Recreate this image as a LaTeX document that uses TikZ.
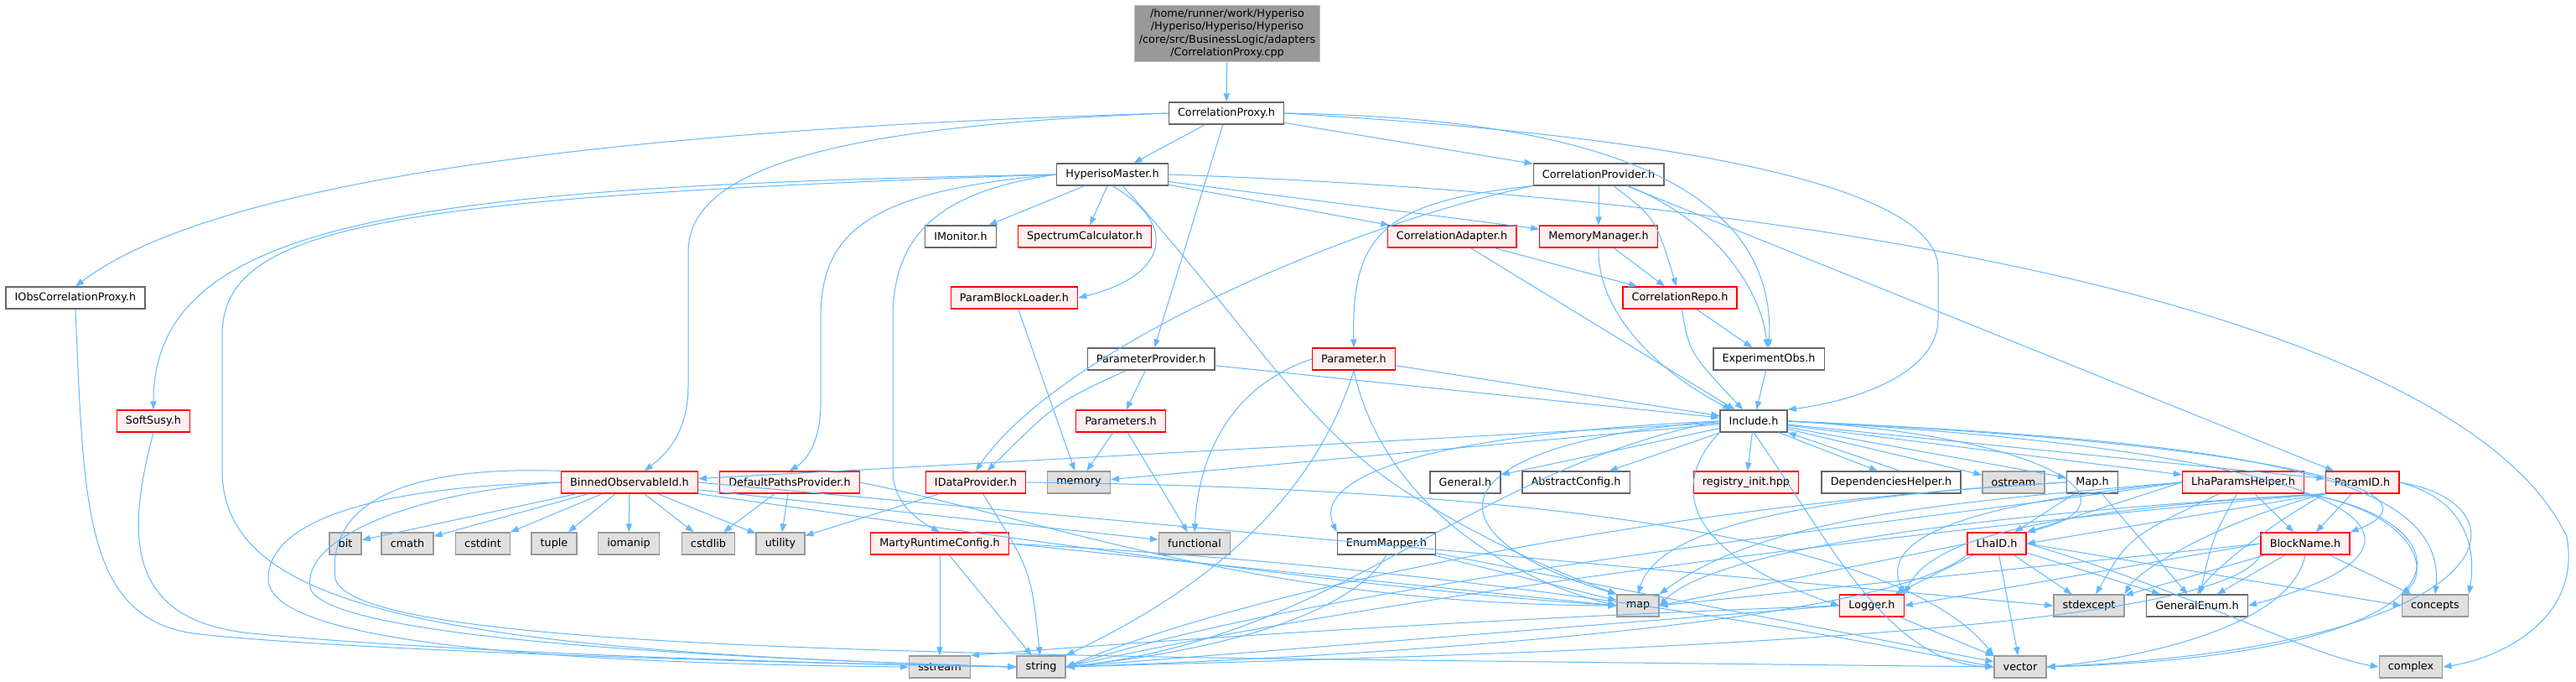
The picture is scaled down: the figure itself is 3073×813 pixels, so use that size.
\documentclass[tikz,border=0pt]{standalone}
\usepackage{fontspec}
\setmainfont{DejaVu Sans}
\usetikzlibrary{arrows.meta}
\definecolor{eblue}{HTML}{63B8FF}
\definecolor{nborder}{HTML}{666666}
\definecolor{sysfill}{HTML}{E0E0E0}
\definecolor{sysborder}{HTML}{999999}
\definecolor{redfill}{HTML}{FFF0F0}
\definecolor{rootfill}{HTML}{999999}
\definecolor{rootborder}{HTML}{BFBFBF}
\begin{document}
\begin{tikzpicture}[x=0.75pt,y=-0.75pt,
  box/.style={font=\fontsize{9.6}{11.5}\selectfont, inner xsep=8pt, inner ysep=0pt, minimum height=19.5pt, line width=1pt},
  nrm/.style={box, draw=nborder, fill=white},
  rnode/.style={box, draw=red, fill=redfill},
  sys/.style={box, draw=sysborder, fill=sysfill},
  rootnode/.style={box, draw=rootborder, fill=rootfill, align=center, inner xsep=4pt, inner ysep=3pt},
  ed/.style={draw=eblue, line width=0.75pt, -{Triangle[length=7.5pt,width=5.5pt]}}]
\useasboundingbox (0,0) rectangle (3073,813);
\fill[white] (0,0) rectangle (3073,813);
% ---------- nodes ----------
\node[rootnode] (cpp) at (1464,40) {/home/runner/work/Hyperiso\\/Hyperiso/Hyperiso/Hyperiso\\/core/src/BusinessLogic/adapters\\/CorrelationProxy.cpp};
\node[nrm] (CPx) at (1463,135) {CorrelationProxy.h};
\node[nrm] (HM) at (1327,208) {HyperisoMaster.h};
\node[nrm] (CPv) at (1907,208) {CorrelationProvider.h};
\node[nrm] (IObs) at (90,355) {IObsCorrelationProxy.h};
\node[nrm] (IMon) at (1146,282) {IMonitor.h};
\node[rnode] (Spec) at (1294,282) {SpectrumCalculator.h};
\node[rnode] (CAd) at (1732,282) {CorrelationAdapter.h};
\node[rnode] (MM) at (1907,282) {MemoryManager.h};
\node[rnode] (PBL) at (1210,355) {ParamBlockLoader.h};
\node[rnode] (CRepo) at (2004,355) {CorrelationRepo.h};
\node[rnode] (SoftSusy) at (183,502) {SoftSusy.h};
\node[nrm] (PProv) at (1373,428) {ParameterProvider.h};
\node[rnode] (Param) at (1615,428) {Parameter.h};
\node[nrm] (ExpObs) at (2110,428) {ExperimentObs.h};
\node[rnode] (Params) at (1337,502) {Parameters.h};
\node[nrm] (Inc) at (2092,502) {Include.h};
\node[rnode] (Binned) at (751,575) {BinnedObservableId.h};
\node[rnode] (DPP) at (942,575) {DefaultPathsProvider.h};
\node[rnode] (IDP) at (1164,575) {IDataProvider.h};
\node[sys] (memory) at (1287,575) {memory};
\node[nrm] (General) at (1748,575) {General.h};
\node[nrm] (AbsCfg) at (1880,575) {AbstractConfig.h};
\node[rnode] (registry) at (2083,575) {registry\_init.hpp};
\node[nrm] (DepH) at (2256,575) {DependenciesHelper.h};
\node[sys] (ostream) at (2402,575) {ostream};
\node[nrm] (MapH) at (2496,575) {Map.h};
\node[rnode] (LPH) at (2676,575) {LhaParamsHelper.h};
\node[rnode] (PID) at (2818,575) {ParamID.h};
\node[sys] (bit) at (412,648) {bit};
\node[sys] (cmath) at (486,648) {cmath};
\node[sys] (cstdint) at (576,648) {cstdint};
\node[sys] (tuple) at (661,648) {tuple};
\node[sys] (iomanip) at (750,648) {iomanip};
\node[sys] (cstdlib) at (845,648) {cstdlib};
\node[sys] (utility) at (931,648) {utility};
\node[rnode] (Marty) at (1121,648) {MartyRuntimeConfig.h};
\node[sys] (functional) at (1425,648) {functional};
\node[nrm] (EnumMapper) at (1654,648) {EnumMapper.h};
\node[rnode] (LhaID) at (2382,648) {LhaID.h};
\node[rnode] (BlockName) at (2750,648) {BlockName.h};
\node[sys] (map) at (1954,722) {map};
\node[rnode] (Logger) at (2233,722) {Logger.h};
\node[sys] (stdexcept) at (2492,722) {stdexcept};
\node[nrm] (GeneralEnum) at (2621,722) {GeneralEnum.h};
\node[sys] (concepts) at (2905,722) {concepts};
\node[sys] (sstream) at (1121,795) {sstream};
\node[sys] (string) at (1242,795) {string};
\node[sys] (vector) at (2410,795) {vector};
\node[sys] (complex) at (2876,795) {complex};
% ---------- edges ----------
\draw[ed] (cpp) -- (CPx);
\draw[ed] (CPx) -- (HM);
\draw[ed] (CPx.west) .. controls (700,155) and (250,220) .. (IObs.north);
\draw[ed] (CPx.west) .. controls (1000,150) and (821,200) .. (821,300) -- (821,460) .. controls (821,520) and (790,545) .. (Binned);
\draw[ed] (CPx) -- (PProv);
\draw[ed] (CPx) -- (CPv);
\draw[ed] (CPx.east) .. controls (1900,140) and (2120,220) .. (ExpObs.north);
\draw[ed] (CPx.east) .. controls (2050,165) and (2312,230) .. (2312,320) -- (2312,380) .. controls (2312,450) and (2200,480) .. (Inc.north east);
% HyperisoMaster
\draw[ed] (HM) -- (IMon);
\draw[ed] (HM) -- (Spec);
\draw[ed] (HM.south) .. controls (1410,270) and (1390,330) .. (PBL.east);
\draw[ed] (HM) -- (CAd);
\draw[ed] (HM) -- (MM);
\draw[ed] (HM.west) .. controls (500,222) and (183,260) .. (SoftSusy.north);
\draw[ed] (HM.west) .. controls (450,235) and (265,270) .. (265,400) -- (265,560) .. controls (265,720) and (500,775) .. (string.west);
\draw[ed] (HM.west) .. controls (1030,228) and (979,280) .. (979,380) -- (979,480) .. controls (979,530) and (960,550) .. (DPP.north);
\draw[ed] (HM.west) .. controls (1120,228) and (1065,280) .. (1065,380) -- (1065,560) .. controls (1065,600) and (1095,620) .. (Marty.north);
\draw[ed] (HM) .. controls (1500,400) and (1560,520) .. (1700,600) .. controls (1800,660) and (1880,690) .. (map.north west);
\draw[ed] (HM.east) .. controls (2300,240) and (2950,400) .. (3062,640) .. controls (3080,740) and (2980,785) .. (complex.east);
\draw[ed] (IObs.south) .. controls (100,600) and (100,735) .. (230,755) .. controls (400,775) and (900,790) .. (string.west);
\draw[ed] (SoftSusy.south) .. controls (150,640) and (150,740) .. (300,755) .. controls (500,775) and (900,790) .. (string.west);
% CorrelationProvider
\draw[ed] (CPv) -- (MM);
\draw[ed] (CPv) .. controls (1975,260) .. (CRepo);
\draw[ed] (CPv) .. controls (2040,260) and (2100,340) .. (ExpObs);
\draw[ed] (CPv.south west) .. controls (1600,270) and (1260,420) .. (IDP.north);
\draw[ed] (CPv.south west) .. controls (1650,240) and (1612,280) .. (Param.north);
\draw[ed] (CPv) -- (PID);
\draw[ed] (CAd) -- (CRepo);
\draw[ed] (CAd) -- (Inc);
\draw[ed] (MM) -- (CRepo);
\draw[ed] (MM.south) .. controls (1905,380) and (1990,450) .. (Inc);
\draw[ed] (CRepo) -- (ExpObs);
\draw[ed] (CRepo) .. controls (2015,420) .. (Inc);
\draw[ed] (ExpObs) -- (Inc);
\draw[ed] (PBL) -- (memory);
\draw[ed] (PProv) -- (Params);
\draw[ed] (PProv) .. controls (1260,480) .. (IDP);
\draw[ed] (PProv) -- (Inc);
\draw[ed] (Params) -- (memory);
\draw[ed] (Params) -- (functional);
\draw[ed] (Param) -- (Inc);
\draw[ed] (Param.west) .. controls (1470,460) and (1430,540) .. (functional.north);
\draw[ed] (Param.south) .. controls (1560,620) and (1400,720) .. (string.north east);
\draw[ed] (Param.south) .. controls (1650,600) and (1800,690) .. (map.west);
% Include.h
\draw[ed] (Inc) -- (Binned);
\draw[ed] (Inc) -- (memory);
\draw[ed] (Inc) -- (General);
\draw[ed] (Inc) -- (AbsCfg);
\draw[ed] (Inc) -- (registry);
\draw[ed] ([xshift=-8pt]Inc.south east) -- ([xshift=-12pt]DepH.north);
\draw[ed] ([xshift=8pt]DepH.north) -- (Inc.south east);
\draw[ed] (Inc) -- (ostream);
\draw[ed] (Inc) -- (MapH);
\draw[ed] (Inc) -- (LPH);
\draw[ed] (Inc) -- (PID);
\draw[ed] (Inc.west) .. controls (1650,520) and (1570,580) .. (EnumMapper.north west);
\draw[ed] (Inc.west) .. controls (1700,530) and (1700,640) .. (map.north west);
\draw[ed] (Inc.south west) .. controls (1990,580) and (2010,660) .. (Logger.west);
\draw[ed] (Inc.west) .. controls (1750,560) and (1600,760) .. (string.east);
\draw[ed] (Inc.south) .. controls (2180,640) and (2250,790) .. (vector.west);
\draw[ed] (Inc.east) .. controls (2650,525) and (2920,560) .. (concepts.north);
\draw[ed] (Inc.east) .. controls (2450,520) and (2560,600) .. (LhaID.north east);
\draw[ed] (Inc.east) .. controls (2750,530) and (2920,590) .. (BlockName.north east);
\draw[ed] (Inc.east) .. controls (2850,540) and (2950,650) .. (GeneralEnum.east);
% BinnedObservableId
\draw[ed] (Binned) -- (bit);
\draw[ed] (Binned) -- (cmath);
\draw[ed] (Binned) -- (cstdint);
\draw[ed] (Binned) -- (tuple);
\draw[ed] (Binned) -- (iomanip);
\draw[ed] (Binned) -- (cstdlib);
\draw[ed] (Binned) -- (utility);
\draw[ed] (Binned) -- (functional);
\draw[ed] (Binned.west) .. controls (450,580) and (320,620) .. (320,690) .. controls (320,760) and (600,790) .. (sstream.west);
\draw[ed] (Binned.west) .. controls (500,585) and (360,640) .. (370,700) .. controls (380,750) and (700,780) .. (string.west);
\draw[ed] (Binned.north west) .. controls (480,555) and (390,600) .. (400,690) .. controls (420,760) and (900,775) .. (1500,785) -- (vector.west);
\draw[ed] (Binned.south east) .. controls (1200,640) and (1600,700) .. (map.west);
\draw[ed] (Binned.east) -- (stdexcept.west);
% others
\draw[ed] (DPP) -- (cstdlib);
\draw[ed] (DPP) -- (utility);
\draw[ed] (DPP.east) .. controls (1250,620) and (1500,720) .. (map.west);
\draw[ed] (IDP) -- (utility);
\draw[ed] (IDP) .. controls (1230,680) .. (string);
\draw[ed] (IDP.east) .. controls (1700,580) and (2250,620) .. (vector.north west);
\draw[ed] (Marty) -- (sstream);
\draw[ed] (Marty) -- (string);
\draw[ed] (Marty.east) .. controls (1800,680) and (2200,760) .. (vector.west);
\draw[ed] (Marty.east) -- (map.west);
\draw[ed] (EnumMapper) -- (map);
\draw[ed] (EnumMapper.south) .. controls (1620,720) and (1500,770) .. (string.east);
\draw[ed] (EnumMapper) -- (vector);
\draw[ed] (MapH) -- (LhaID);
\draw[ed] (MapH) -- (GeneralEnum);
\draw[ed] (MapH.west) .. controls (2200,590) and (1980,620) .. (map.north);
\draw[ed] (MapH.west) .. controls (2000,600) and (1500,700) .. (string.east);
\draw[ed] (LPH) .. controls (2540,640) .. (stdexcept);
\draw[ed] (LPH) .. controls (2640,640) .. (GeneralEnum);
\draw[ed] (LPH) -- (BlockName);
\draw[ed] (LPH.west) -- (LhaID.north east);
\draw[ed] (LPH.west) .. controls (2300,600) and (2100,620) .. (map.north east);
\draw[ed] (LPH.west) .. controls (2300,620) and (1600,690) .. (string.east);
\draw[ed] (LPH.south east) .. controls (2950,620) and (2980,780) .. (vector.east);
\draw[ed] (LPH.south east) .. controls (2880,610) and (2900,680) .. (concepts.north west);
\draw[ed] (LPH.west) .. controls (2350,600) and (2240,640) .. (Logger.north east);
\draw[ed] (PID) -- (BlockName);
\draw[ed] (PID.south west) -- (LhaID.east);
\draw[ed] (PID.south west) .. controls (2700,630) and (2640,680) .. (GeneralEnum.north);
\draw[ed] (PID.south west) .. controls (2650,620) and (2550,680) .. (stdexcept.north east);
\draw[ed] (PID.east) .. controls (2960,600) and (2950,680) .. (concepts.north east);
\draw[ed] (PID.east) .. controls (3020,600) and (3000,770) .. (vector.east);
\draw[ed] (PID.south west) .. controls (2400,620) and (1700,700) .. (string.east);
\draw[ed] (PID.south west) .. controls (2400,610) and (2050,650) .. (map.east);
\draw[ed] (PID.south west) .. controls (2400,610) and (2300,650) .. (Logger.north east);
\draw[ed] (LhaID) -- (stdexcept);
\draw[ed] (LhaID) -- (GeneralEnum);
\draw[ed] (LhaID) -- (vector);
\draw[ed] (LhaID.east) -- (concepts.west);
\draw[ed] (LhaID.west) -- (map.east);
\draw[ed] (LhaID) -- (Logger);
\draw[ed] (LhaID.south west) .. controls (2250,740) and (1700,780) .. (string.east);
\draw[ed] (LhaID.east) .. controls (2600,700) and (2750,780) .. (complex.west);
\draw[ed] (BlockName.west) -- (Logger.east);
\draw[ed] (BlockName) -- (GeneralEnum);
\draw[ed] (BlockName) -- (stdexcept);
\draw[ed] (BlockName) -- (concepts);
\draw[ed] (BlockName.south) .. controls (2730,760) and (2500,790) .. (vector.east);
\draw[ed] (BlockName.south west) .. controls (2650,760) and (1800,780) .. (string.east);
\draw[ed] (BlockName.west) -- (map.east);
\draw[ed] (Logger.west) .. controls (1700,740) and (1300,770) .. (sstream.north east);
\draw[ed] (Logger.west) -- (string.east);
\draw[ed] (Logger) -- (vector);
\end{tikzpicture}
\end{document}
